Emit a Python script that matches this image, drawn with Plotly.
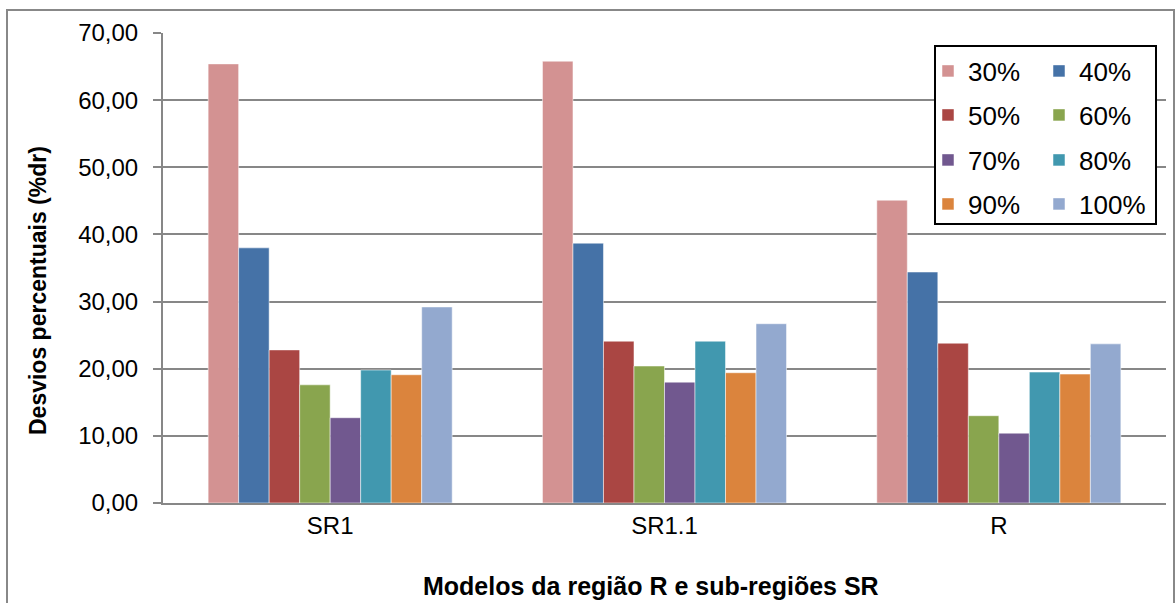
import plotly.graph_objects as go

categories = ["SR1", "SR1.1", "R"]
series_names = ["30%", "40%", "50%", "60%", "70%", "80%", "90%", "100%"]
values = {
    "30%": [65.4, 65.8, 45.1],
    "40%": [38.0, 38.7, 34.4],
    "50%": [22.8, 24.1, 23.8],
    "60%": [17.6, 20.4, 13.0],
    "70%": [12.7, 18.0, 10.4],
    "80%": [19.8, 24.1, 19.5],
    "90%": [19.1, 19.4, 19.2],
    "100%": [29.2, 26.7, 23.7],
}
colors = ["#D39292", "#4572A7", "#AA4643", "#89A54E", "#71588F", "#4198AF", "#DB843D", "#93A9CF"]
y_title = "Desvios percentuais (%dr)"
x_title = "Modelos da região R e sub-regiões SR"

W, H = 1175, 603
ML, MR, MT, MB = 163, 9, 33, 100
PW = W - ML - MR
PH = H - MT - MB

def px_x(x):
    return (x - ML) / PW

def px_y(y):
    return (H - MB - y) / PH

font_family = "Liberation Sans, Arial, sans-serif"

fig = go.Figure()
legend_cols = [px_x(928), px_x(1039)]
legend_rows = [px_y(71), px_y(115), px_y(160), px_y(204)]
layout_legends = {}
for i, name in enumerate(series_names):
    lname = "legend" if i == 0 else f"legend{i+1}"
    fig.add_trace(go.Bar(
        x=categories, y=values[name], name=name,
        marker=dict(color=colors[i], line=dict(color="rgba(255,255,255,0.5)", width=1)),
        legend=lname,
    ))
    layout_legends[lname] = dict(
        x=legend_cols[i % 2], y=legend_rows[i // 2],
        xanchor="left", yanchor="middle",
        bgcolor="rgba(0,0,0,0)", borderwidth=0,
        font=dict(family=font_family, size=26, color="#000"),
    )

fig.update_layout(
    width=W, height=H,
    margin=dict(l=ML, r=MR, t=MT, b=MB),
    paper_bgcolor="white", plot_bgcolor="white",
    barmode="group", bargap=0.27, bargroupgap=0,
    separators=",.",
    font=dict(family=font_family, size=24, color="#000"),
    showlegend=True,
    **layout_legends,
)
fig.update_yaxes(
    range=[0, 70], dtick=10, tickformat=".2f",
    showgrid=True, gridcolor="#878787", gridwidth=2,
    showline=True, linecolor="#878787", linewidth=2,
    ticks="outside", ticklen=8, tickwidth=2, tickcolor="#878787",
    ticklabelstandoff=10,
    zeroline=False,
    tickfont=dict(family=font_family, size=24, color="#000"),
)
fig.update_xaxes(
    showline=True, linecolor="#878787", linewidth=2,
    ticks="", showgrid=False,
    tickfont=dict(family=font_family, size=24, color="#000"),
)

fig.add_annotation(
    text=f"<b>{y_title}</b>", xref="paper", yref="paper",
    x=px_x(38), y=px_y(291), textangle=-90, showarrow=False,
    font=dict(family=font_family, size=23, color="#000"),
    xanchor="center", yanchor="middle",
)
fig.add_annotation(
    text=f"<b>{x_title}</b>", xref="paper", yref="paper",
    x=px_x(651), y=px_y(586), showarrow=False,
    font=dict(family=font_family, size=25, color="#000"),
    xanchor="center", yanchor="middle",
)

# legend box
fig.add_shape(
    type="rect", xref="paper", yref="paper",
    x0=px_x(935), x1=px_x(1156), y0=px_y(224), y1=px_y(46),
    line=dict(color="#000", width=2), fillcolor="white", layer="above",
)
# outer chart border
fig.add_shape(
    type="rect", xref="paper", yref="paper",
    x0=px_x(7), x1=px_x(1174), y0=px_y(640), y1=px_y(10),
    line=dict(color="#888888", width=2), fillcolor="rgba(0,0,0,0)", layer="below",
)

fig.write_html(
    "out.html",
    config={"displayModeBar": False},
    post_script="document.body.style.margin='0';document.body.style.overflow='hidden';",
)
